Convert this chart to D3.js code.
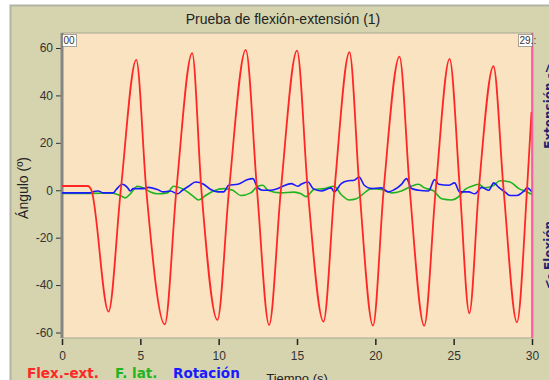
<!DOCTYPE html>
<html>
<head>
<meta charset="utf-8">
<script src="https://cdn.jsdelivr.net/npm/d3@7"></script>
<style>
    body { margin: 0; background: #ffffff; }
    #chart { width: 549px; height: 380px; overflow: hidden; }
    .tick text { font-family: "Liberation Sans", Arial, sans-serif; font-size: 12px; fill: #333; }
</style>
</head>
<body>
<div id="chart"></div>
<script>

// time (s) and angle (deg)
var flexT = [0, 1.65, 1.88, 2.97, 3.75, 4.74, 5.38, 6.56, 7.3, 8.31, 8.9, 9.92, 10.66, 11.73, 12.45, 13.22, 13.97, 15.0, 15.69, 16.69, 17.39, 18.35, 18.99, 19.85, 20.53, 21.54, 22.2, 23.12, 23.85, 24.74, 25.4, 26.0, 26.6, 27.54, 28.19, 29.04, 29.68, 29.97];
var flexV = [1.8, 1.8, 0, -51.2, 0, 55, 0, -56.6, 0, 57.8, 0, -54.7, 0, 59.2, 0, -56.8, 0, 58.9, 0, -55.4, 0, 58.2, 0, -57.1, 0, 56.4, 0, -57.1, 0, 55.4, 0, -51.9, 0, 52.3, 0, -55.7, 0, 33];

var latT = [0, 1.79, 3.27, 3.4, 3.72, 4.04, 4.36, 4.81, 5.19, 5.64, 6.09, 6.73, 7.12, 7.56, 8.01, 8.4, 8.72, 9.17, 9.68, 10.32, 10.9, 11.41, 12.05, 12.5, 12.82, 13.14, 13.97, 14.81, 15.26, 15.58, 16.09, 16.73, 17.37, 17.82, 18.33, 18.78, 19.23, 19.74, 20.38, 21.03, 21.67, 22.31, 22.76, 23.14, 23.72, 24.23, 24.87, 25.32, 25.71, 26.15, 26.6, 26.99, 27.56, 27.95, 28.59, 29.17, 29.68, 30];
var latV = [-1.3, -1.3, -1.2, -1.5, -2.2, -3.2, -1.5, 1.7, 1.0, -0.7, -1.5, -1.1, 1.7, 1.0, -0.7, -2.7, -4.1, -2.2, -0.3, 0.7, 0, -2.2, -1.1, 1.7, 2.1, 0, -1.1, -0.8, -1.5, -2.7, 0.3, 0.7, 1.7, -1.8, -4.1, -3.6, -1.5, 0.7, 0.3, -1.1, -0.3, 1.7, 2.5, 1.0, -0.3, -3.6, -4.1, -2.7, 0.3, 1.7, 2.5, 1.0, 2.1, 4.0, 3.5, 0.7, -0.7, -1.8];

var rotT = [0, 1.79, 1.92, 2.31, 2.63, 3.27, 3.46, 3.85, 4.17, 4.36, 4.55, 5.19, 5.51, 6.09, 6.47, 6.92, 7.37, 7.69, 8.08, 8.53, 9.04, 9.49, 9.94, 10.32, 10.64, 11.22, 11.86, 12.18, 12.5, 12.82, 13.33, 13.78, 14.1, 14.62, 15.06, 15.26, 15.71, 16.03, 16.54, 17.18, 17.37, 17.82, 18.27, 18.65, 18.97, 19.29, 19.74, 20.38, 20.83, 21.22, 21.67, 21.99, 22.31, 22.76, 23.4, 23.78, 24.04, 24.68, 25.06, 25.38, 25.96, 26.35, 26.79, 27.24, 27.56, 27.88, 28.27, 28.59, 29.04, 29.49, 29.68, 30];
var rotV = [-1.1, -1.1, -0.7, -0.3, -1.1, -1.1, 0.3, 2.5, 1.2, -0.3, 0.7, 0.7, 1.2, 0.3, -0.7, -0.3, -1.5, 0, 1.7, 3.5, 2.5, 0.3, -0.7, -0.7, 2.1, 2.5, 4.5, 4.9, 1.0, 0, 0, 0.7, 1.7, 2.8, 1.7, 2.5, 3.5, 0.7, -0.3, 1.0, -0.7, 2.8, 4.0, 4.2, 5.6, 2.1, 0.7, 1.0, -0.7, 0.3, 2.5, 4.9, 0.7, 0, -0.3, 4.5, 2.5, 2.1, 3.1, -0.7, -0.7, -1.5, 1.2, 0, 3.1, 1.2, -0.7, -2.2, -2.2, -0.3, 1.0, -0.7];

var yTicks = [-60, -40, -20, 0, 20, 40, 60];
var xTicks = [0, 5, 10, 15, 20, 25, 30];

var width = 549;
var height = 380;
var plot = {left: 62, right: 532, top: 33, bottom: 338};

var svg = d3.select("#chart")
    .append("svg")
    .attr("width", width)
    .attr("height", height);

// outer panel
svg.append("rect")
    .attr("x", 10.5).attr("y", 5.5)
    .attr("width", 560).attr("height", 400)
    .attr("fill", "#d6d4ae")
    .attr("stroke", "#b4b4a4")
    .attr("stroke-width", 2);

svg.append("rect")
    .attr("x", plot.left).attr("y", plot.top)
    .attr("width", plot.right - plot.left + 1).attr("height", plot.bottom - plot.top)
    .attr("fill", "#f9e3c1")
    .attr("stroke", "#a8a894")
    .attr("stroke-width", 1);

var xScale = d3.scaleLinear()
    .domain([0, 30])
    .range([plot.left, plot.right]);

var yScale = d3.scaleLinear()
    .domain([-60, 60])
    .range([332.5, 48]);

var xAxis = svg.append("g")
    .attr("transform", "translate(0," + (plot.bottom + 1) + ")")
    .call(d3.axisBottom(xScale).tickValues(xTicks).tickSize(6).tickPadding(6));
xAxis.select(".domain").remove();
xAxis.selectAll(".tick line").attr("stroke", "#222").attr("stroke-width", 1.5);

// plain hyphen for negatives, like the original
var yAxis = svg.append("g")
    .attr("transform", "translate(" + plot.left + ",0)")
    .call(d3.axisLeft(yScale).tickValues(yTicks).tickSize(6).tickPadding(3)
        .tickFormat(function(d) { return String(d); }));
yAxis.select(".domain").remove();
yAxis.selectAll(".tick line").attr("stroke", "#333");

svg.append("line")
    .attr("x1", plot.left).attr("x2", plot.left)
    .attr("y1", plot.top).attr("y2", plot.bottom)
    .attr("stroke", "#858585")
    .attr("stroke-width", 3);

function makeLine(ts, vs) {
    return d3.line()
        .x(function(d, i) { return xScale(ts[i]); })
        .y(function(d) { return yScale(d); })
        .curve(d3.curveMonotoneX)(vs);
}

svg.append("path")
    .attr("d", makeLine(latT, latV))
    .attr("fill", "none")
    .attr("stroke", "#1fb41f")
    .attr("stroke-width", 1.6);

svg.append("path")
    .attr("d", makeLine(rotT, rotV))
    .attr("fill", "none")
    .attr("stroke", "#1a1aff")
    .attr("stroke-width", 1.6);

svg.append("path")
    .attr("d", makeLine(flexT, flexV))
    .attr("fill", "none")
    .attr("stroke", "#ff2626")
    .attr("stroke-width", 1.8);

// cursor line at the end
svg.append("line")
    .attr("x1", xScale(30)).attr("x2", xScale(30))
    .attr("y1", plot.top).attr("y2", plot.bottom)
    .attr("stroke", "#ff3fa0")
    .attr("stroke-width", 1.5);

// small markers
function marker(x, label) {
    svg.append("rect")
        .attr("x", x).attr("y", 34.5)
        .attr("width", 14).attr("height", 12)
        .attr("fill", "#ffffff")
        .attr("stroke", "#555")
        .attr("stroke-dasharray", "1,1");
    svg.append("text")
        .attr("x", x + 1).attr("y", 44)
        .attr("font-family", "Liberation Sans, Arial, sans-serif")
        .attr("font-size", 10)
        .attr("fill", "#333")
        .text(label);
}
marker(62.5, "00");
marker(518.5, "29.:");

svg.append("text")
    .attr("x", 283).attr("y", 24)
    .attr("text-anchor", "middle")
    .attr("font-family", "Liberation Sans, Arial, sans-serif")
    .attr("font-size", 14)
    .attr("fill", "#222")
    .text("Prueba de flexión-extensión (1)");

svg.append("text")
    .attr("transform", "rotate(-90)")
    .attr("x", -188).attr("y", 28)
    .attr("text-anchor", "middle")
    .attr("font-family", "Liberation Sans, Arial, sans-serif")
    .attr("font-size", 14)
    .attr("fill", "#222")
    .text("Ángulo (º)");

// these three are clipped by the frame edge in the original too
svg.append("text")
    .attr("x", 297).attr("y", 383)
    .attr("text-anchor", "middle")
    .attr("font-family", "Liberation Sans, Arial, sans-serif")
    .attr("font-size", 13)
    .attr("fill", "#222")
    .text("Tiempo (s)");

svg.append("text")
    .attr("transform", "rotate(-90)")
    .attr("x", -106).attr("y", 553)
    .attr("text-anchor", "middle")
    .attr("font-family", "DejaVu Sans, sans-serif")
    .attr("font-weight", "bold")
    .attr("font-size", 12)
    .attr("fill", "#20206e")
    .text("Extensión ->");

svg.append("text")
    .attr("transform", "rotate(-90)")
    .attr("x", -255).attr("y", 553)
    .attr("text-anchor", "middle")
    .attr("font-family", "DejaVu Sans, sans-serif")
    .attr("font-weight", "bold")
    .attr("font-size", 12)
    .attr("fill", "#20206e")
    .text("<- Flexión");

var legendNames = ["Flex.-ext.", "F. lat.", "Rotación"];
var legendColors = ["#ff2626", "#22b422", "#1a1aff"];
var legendX = [27, 115, 173];

svg.selectAll(".legend")
    .data(legendNames)
    .enter()
    .append("text")
    .attr("class", "legend")
    .attr("x", function(d, i) { return legendX[i]; })
    .attr("y", 378)
    .attr("font-family", "DejaVu Sans, sans-serif")
    .attr("font-weight", "bold")
    .attr("font-size", 13.5)
    .attr("fill", function(d, i) { return legendColors[i]; })
    .text(function(d) { return d; });

</script>
</body>
</html>
